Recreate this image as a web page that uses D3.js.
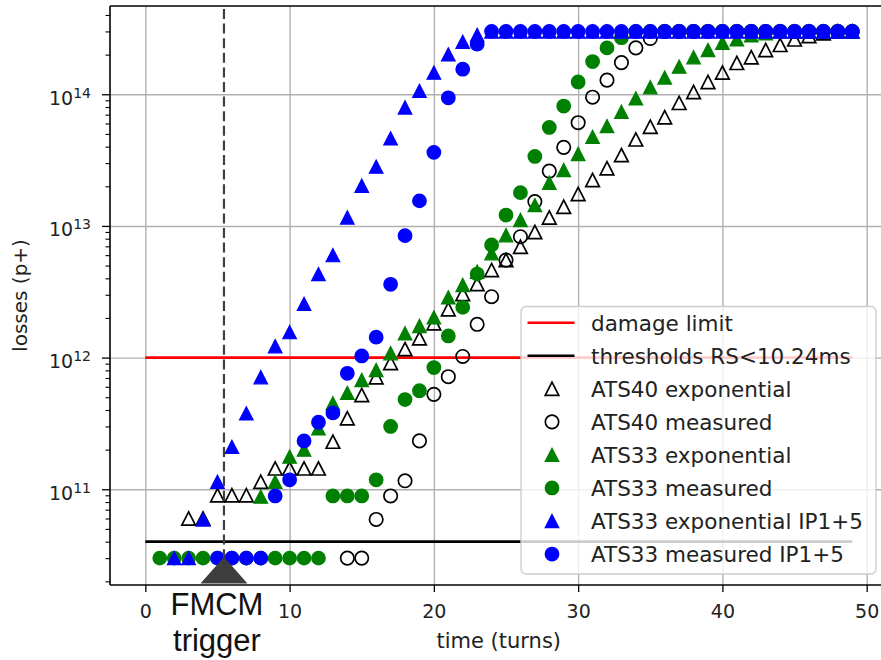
<!DOCTYPE html>
<html>
<head>
<meta charset="utf-8">
<script src="https://cdn.jsdelivr.net/npm/d3@7"></script>
<style>
  body { margin: 0; background: #fff; }
  text { font-family: "DejaVu Sans", sans-serif; fill: #222; }
</style>
</head>
<body>
<script>
// ---- data (turn, losses in p+) ----
const ats40ExpTurns = [3,4,5,6,7,8,9,10,11,12,13,14,15,16,17,18,19,20,21,22,23,24,25,26,27,28,29,30,31,32,33,34,35,36,37,38,39,40,41,42,43,44,45,46,47,48,49];
const ats40ExpLoss = [6e10,6e10,9e10,9e10,9e10,1.14e11,1.44e11,1.44e11,1.44e11,1.44e11,2.3e11,3.46e11,5.2e11,7.1e11,9.1e11,
  1.16e12,1.4e12,1.82e12,2.33e12,3.04e12,3.62e12,4.62e12,5.5e12,6.95e12,9.0e12,1.16e13,1.4e13,1.75e13,2.23e13,2.74e13,
  3.45e13,4.54e13,5.66e13,6.68e13,8.6e13,1.04e14,1.24e14,1.46e14,1.73e14,1.91e14,2.17e14,2.37e14,2.61e14,2.77e14,2.9e14,3e14,3e14];

const ats40MeasTurns = [14,15,16,17,18,19,20,21,22,23,24,25,26,27,28,29,30,31,32,33,34,35,36,37,38,39,40,41,42,43,44,45,46,47,48,49];
const ats40MeasLoss = [3e10,3e10,5.9e10,8.9e10,1.16e11,2.33e11,5.26e11,7.16e11,1.02e12,1.79e12,2.9e12,5.5e12,8.28e12,1.53e13,
  2.61e13,3.95e13,6.08e13,9.5e13,1.28e14,1.74e14,2.25e14,2.65e14,3e14,3e14,3e14,3e14,3e14,3e14,3e14,3e14,3e14,3e14,3e14,3e14,3e14,3e14];

const ats33ExpTurns = [8,9,10,11,12,13,14,15,16,17,18,19,20,21,22,23,24,25,26,27,28,29,30,31,32,33,34,35,36,37,38,39,40,41,42,43,44,45,46,47,48,49];
const ats33ExpLoss = [8.8e10,1.14e11,1.77e11,2.0e11,2.9e11,4.5e11,5.4e11,6.76e11,8.05e11,1.08e12,1.53e12,1.74e12,2.02e12,2.87e12,
  3.56e12,4.49e12,6.2e12,8.5e12,1.11e13,1.44e13,2.13e13,2.66e13,3.52e13,4.75e13,5.73e13,7.36e13,9.3e13,1.13e14,1.34e14,1.62e14,
  1.91e14,2.17e14,2.46e14,2.61e14,2.8e14,2.9e14,3e14,3e14,3e14,3e14,3e14,3e14];

const ats33MeasTurns = [1,2,3,4,5,6,7,8,9,10,11,12,13,14,15,16,17,18,19,20,21,22,23,24,25,26,27,28,29,30,31,32,33,34,35,36,37,38,39,40,41,42,43,44,45,46,47,48,49];
const ats33MeasLoss = [3e10,3e10,3e10,3e10,3e10,3e10,3e10,3e10,3e10,3e10,3e10,3e10,8.9e10,8.9e10,8.9e10,1.18e11,3.0e11,4.8e11,5.6e11,
  8.4e11,1.46e12,2.41e12,4.31e12,7.17e12,1.21e13,1.79e13,3.37e13,5.6e13,8.13e13,1.24e14,1.77e14,2.25e14,2.69e14,
  3e14,3e14,3e14,3e14,3e14,3e14,3e14,3e14,3e14,3e14,3e14,3e14,3e14,3e14,3e14,3e14];

const ipExpTurns = [2,3,4,5,6,7,8,9,10,11,12,13,14,15,16,17,18,19,20,21,22,23,24,25,26,27,28,29,30,31,32,33,34,35,36,37,38,39,40,41,42,43,44,45,46,47,48,49];
const ipExpLoss = [3e10,3e10,5.9e10,1.14e11,2.1e11,3.77e11,7.1e11,1.22e12,1.56e12,2.56e12,4.31e12,6.0e12,1.16e13,2.02e13,2.82e13,
  4.62e13,7.94e13,1.06e14,1.46e14,2.01e14,2.5e14,2.82e14,3e14,3e14,3e14,3e14,3e14,3e14,3e14,3e14,3e14,3e14,3e14,3e14,3e14,3e14,
  3e14,3e14,3e14,3e14,3e14,3e14,3e14,3e14,3e14,3e14,3e14,3e14];

const ipMeasTurns = [5,6,7,8,9,10,11,12,13,14,15,16,17,18,19,20,21,22,23,24,25,26,27,28,29,30,31,32,33,34,35,36,37,38,39,40,41,42,43,44,45,46,47,48,49];
const ipMeasLoss = [3e10,3e10,3e10,3e10,8.9e10,1.18e11,2.33e11,3.23e11,3.8e11,7.6e11,1.03e12,1.43e12,3.6e12,8.44e12,1.55e13,3.62e13,
  9.4e13,1.55e14,2.4e14,3e14,3e14,3e14,3e14,3e14,3e14,3e14,3e14,3e14,3e14,3e14,3e14,3e14,3e14,3e14,3e14,3e14,3e14,3e14,3e14,3e14,
  3e14,3e14,3e14,3e14,3e14];

const damageLimit = 1e12;
const threshold = 4e10;
const lineTurns = [0, 49];
const fmcmTurn = 5.45;

const xTicks = [0, 10, 20, 30, 40, 50];
const yTicks = [1e11, 1e12, 1e13, 1e14];
const yTickExp = ["11", "12", "13", "14"];

const legendLabels = ["damage limit", "thresholds RS<10.24ms", "ATS40 exponential", "ATS40 measured",
  "ATS33 exponential", "ATS33 measured", "ATS33 exponential IP1+5", "ATS33 measured IP1+5"];

// ---- canvas ----
const canvWidth = 881, canvHeight = 660;
const svg = d3.select("body").append("svg")
    .attr("width", canvWidth)
    .attr("height", canvHeight);

const plot = {left: 110, right: 887.6, top: 6, bottom: 585};

const xScale = d3.scaleLinear()
    .domain([-2.45, 51.45])
    .range([plot.left, plot.right]);

const yScale = d3.scaleLog()
    .domain([1.875e10, 4.68e14])
    .range([plot.bottom, plot.top]);

// grid
svg.append("g")
    .attr("transform", "translate(0," + plot.bottom + ")")
    .call(d3.axisBottom(xScale).tickValues(xTicks).tickSize(-(plot.bottom - plot.top)).tickFormat(""))
    .call(g => g.select(".domain").remove())
    .selectAll("line").attr("stroke", "#b0b0b0").attr("stroke-width", 1.4);

svg.append("g")
    .attr("transform", "translate(" + plot.left + ",0)")
    .call(d3.axisLeft(yScale).tickValues(yTicks).tickSize(-(plot.right - plot.left)).tickFormat(""))
    .call(g => g.select(".domain").remove())
    .selectAll("line").attr("stroke", "#b0b0b0").attr("stroke-width", 1.4);

// horizontal limit lines
const hline = d3.line().x(d => xScale(d[0])).y(d => yScale(d[1]));
svg.append("path")
    .attr("d", hline(lineTurns.map(t => [t, damageLimit])))
    .attr("stroke", "red").attr("stroke-width", 2.6).attr("fill", "none");
svg.append("path")
    .attr("d", hline(lineTurns.map(t => [t, threshold])))
    .attr("stroke", "black").attr("stroke-width", 2.6).attr("fill", "none");

// markers
const triPath = "M0,-6.6L6.8,6.6L-6.8,6.6Z";

function drawTriangles(turns, loss, fill, stroke) {
    svg.append("g").selectAll("path")
        .data(turns.map((t, i) => [t, loss[i]]))
        .join("path")
        .attr("d", triPath)
        .attr("transform", d => "translate(" + xScale(d[0]) + "," + yScale(d[1]) + ")")
        .attr("fill", fill)
        .attr("stroke", stroke)
        .attr("stroke-width", fill === "none" ? 1.7 : 1.2)
        .attr("stroke-linejoin", "miter");
}

function drawCircles(turns, loss, fill, stroke) {
    svg.append("g").selectAll("circle")
        .data(turns.map((t, i) => [t, loss[i]]))
        .join("circle")
        .attr("cx", d => xScale(d[0]))
        .attr("cy", d => yScale(d[1]))
        .attr("r", 6.7)
        .attr("fill", fill)
        .attr("stroke", stroke)
        .attr("stroke-width", fill === "none" ? 1.7 : 1.4);
}

drawTriangles(ats40ExpTurns, ats40ExpLoss, "none", "black");
drawCircles(ats40MeasTurns, ats40MeasLoss, "none", "black");
drawTriangles(ats33ExpTurns, ats33ExpLoss, "green", "green");
drawCircles(ats33MeasTurns, ats33MeasLoss, "green", "green");
drawTriangles(ipExpTurns, ipExpLoss, "blue", "blue");
drawCircles(ipMeasTurns, ipMeasLoss, "blue", "blue");

// FMCM trigger line + arrow
const fx = xScale(fmcmTurn);
svg.append("line")
    .attr("x1", fx).attr("x2", fx)
    .attr("y1", plot.top + 3).attr("y2", plot.bottom - 26)
    .attr("stroke", "#404040")
    .attr("stroke-width", 2.2)
    .attr("stroke-dasharray", "10,4.6");

svg.append("path")
    .attr("d", "M" + fx + "," + (plot.bottom - 28) + "L" + (fx + 23.5) + "," + (plot.bottom - 1.5) +
        "L" + (fx - 23.5) + "," + (plot.bottom - 1.5) + "Z")
    .attr("fill", "#3d3d3d");

// spines
svg.append("line").attr("x1", plot.left).attr("x2", plot.left).attr("y1", plot.top).attr("y2", plot.bottom)
    .attr("stroke", "black").attr("stroke-width", 1.6);
svg.append("line").attr("x1", plot.left).attr("x2", plot.right).attr("y1", plot.bottom).attr("y2", plot.bottom)
    .attr("stroke", "black").attr("stroke-width", 1.6);
svg.append("line").attr("x1", plot.left).attr("x2", plot.right).attr("y1", plot.top).attr("y2", plot.top)
    .attr("stroke", "black").attr("stroke-width", 1.6);

// x axis
const xAxis = svg.append("g")
    .attr("transform", "translate(0," + plot.bottom + ")")
    .call(d3.axisBottom(xScale).tickValues(xTicks).tickSize(7).tickPadding(13));
xAxis.select(".domain").remove();
xAxis.selectAll("line").attr("stroke", "black").attr("stroke-width", 1.3);
xAxis.selectAll("text")
    .attr("font-family", "DejaVu Sans")
    .attr("font-size", "19px")
    .attr("fill", "#222");

// y axis (major + minor ticks)
const yMinor = yScale.ticks().filter(v => Math.abs(Math.log10(v) - Math.round(Math.log10(v))) > 1e-6);
const yAxisMinor = svg.append("g")
    .attr("transform", "translate(" + plot.left + ",0)")
    .call(d3.axisLeft(yScale).tickValues(yMinor).tickSize(4.5).tickFormat(""));
yAxisMinor.select(".domain").remove();
yAxisMinor.selectAll("line").attr("stroke", "black").attr("stroke-width", 1.1);

const yAxisMajor = svg.append("g")
    .attr("transform", "translate(" + plot.left + ",0)")
    .call(d3.axisLeft(yScale).tickValues(yTicks).tickSize(8).tickFormat(""));
yAxisMajor.select(".domain").remove();
yAxisMajor.selectAll("line").attr("stroke", "black").attr("stroke-width", 1.3);

const yLabels = svg.append("g").selectAll("text")
    .data(yTicks)
    .join("text")
    .attr("x", plot.left - 19)
    .attr("y", d => yScale(d) + 10.5)
    .attr("text-anchor", "end");
yLabels.append("tspan").attr("font-size", "19px").text("10");
yLabels.append("tspan").attr("font-size", "14px").attr("dy", -7.2)
    .text((d, i) => yTickExp[i]);

// axis titles
svg.append("text")
    .attr("x", (plot.left + plot.right) / 2)
    .attr("y", 648)
    .attr("text-anchor", "middle")
    .attr("font-size", "21px")
    .text("time (turns)");

svg.append("text")
    .attr("transform", "translate(27," + (plot.top + plot.bottom) / 2 + ") rotate(-90)")
    .attr("text-anchor", "middle")
    .attr("font-size", "20px")
    .text("losses (p+)");

// annotation text
const fmcmText = svg.append("text")
    .attr("text-anchor", "middle")
    .style("font-family", "'Liberation Sans', Arial, sans-serif")
    .attr("font-size", "31px")
    .style("fill", "#111");
fmcmText.append("tspan").attr("x", fx - 7).attr("y", 614.5).text("FMCM");
fmcmText.append("tspan").attr("x", fx - 7).attr("y", 650.5).text("trigger");

// legend
const legend = svg.append("g").attr("id", "legend");
legend.append("rect")
    .attr("x", 521).attr("y", 306.5)
    .attr("width", 355).attr("height", 267.5)
    .attr("rx", 5)
    .attr("fill", "white").attr("fill-opacity", 0.8)
    .attr("stroke", "#cccccc").attr("stroke-width", 1.3);

const rowY = i => 322.7 + i * 33.05;
const handleX = 552;

legend.append("line").attr("x1", 527.5).attr("x2", 574.5).attr("y1", rowY(0)).attr("y2", rowY(0))
    .attr("stroke", "red").attr("stroke-width", 2.6);
legend.append("line").attr("x1", 527.5).attr("x2", 574.5).attr("y1", rowY(1)).attr("y2", rowY(1))
    .attr("stroke", "black").attr("stroke-width", 2.6);

const legendMarkers = [
    {shape: "tri", fill: "none", stroke: "black"},
    {shape: "circ", fill: "none", stroke: "black"},
    {shape: "tri", fill: "green", stroke: "green"},
    {shape: "circ", fill: "green", stroke: "green"},
    {shape: "tri", fill: "blue", stroke: "blue"},
    {shape: "circ", fill: "blue", stroke: "blue"}
];
legendMarkers.forEach((m, j) => {
    const y = rowY(j + 2);
    if (m.shape === "tri") {
        legend.append("path").attr("d", triPath)
            .attr("transform", "translate(" + handleX + "," + y + ")")
            .attr("fill", m.fill).attr("stroke", m.stroke)
            .attr("stroke-width", m.fill === "none" ? 1.7 : 1.2);
    } else {
        legend.append("circle").attr("cx", handleX).attr("cy", y).attr("r", 6.7)
            .attr("fill", m.fill).attr("stroke", m.stroke)
            .attr("stroke-width", m.fill === "none" ? 1.7 : 1.4);
    }
});

legend.selectAll("text.lbl")
    .data(legendLabels)
    .join("text")
    .attr("class", "lbl")
    .attr("x", 591)
    .attr("y", (d, i) => rowY(i) + 7.8)
    .attr("font-size", "21.5px")
    .text(d => d);
</script>
</body>
</html>
